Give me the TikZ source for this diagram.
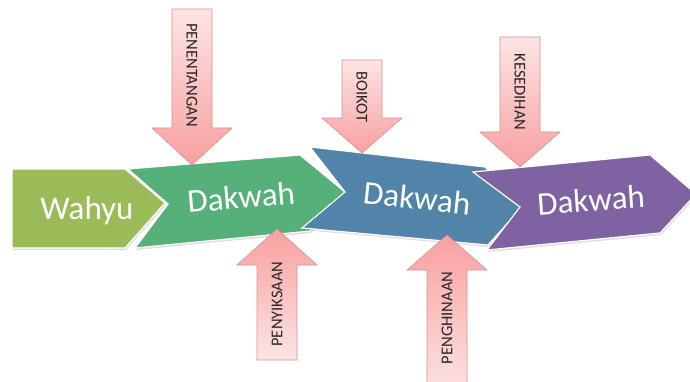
\documentclass[tikz,border=0pt]{standalone}
\usepackage{fontspec}
\setmainfont{Carlito}
\usetikzlibrary{shadows}

\definecolor{wahyucol}{HTML}{9BBB59}
\definecolor{greencol}{HTML}{55B079}
\definecolor{bluecol}{HTML}{5283A8}
\definecolor{purplecol}{HTML}{7E62A1}
\definecolor{pinklight}{HTML}{FDE4E4}
\definecolor{pinkdark}{HTML}{F8A0A0}
\definecolor{pinkedge}{HTML}{D99090}

\tikzset{
    chevron/.style={draw=white, line width=1.2pt, line join=miter,
        drop shadow={opacity=0.25, shadow xshift=1pt, shadow yshift=-2pt}},
    pinkdown/.style={draw=pinkedge, line width=0.6pt, top color=pinklight, bottom color=pinkdark},
    pinkup/.style={draw=pinkedge, line width=0.6pt, top color=pinkdark, bottom color=pinklight},
    bigtext/.style={text=white, font=\fontsize{33}{36}\selectfont, inner sep=0pt},
    smalltext/.style={text=black!85, font=\fontsize{16.5}{18}\selectfont, inner sep=0pt},
}

% #1 name, #2 x, #3 shaft end, #4 head base, #5 tip, #6 text y, #7 text
\newcommand{\pushdown}[7]{
    \path[pinkdown] (#2-20,#3) -- (#2+20,#3) -- (#2+20,#4) -- (#2+40,#4)
        -- (#2,#5) -- (#2-40,#4) -- (#2-20,#4) -- cycle;
    \node[smalltext, rotate=-90] (#1) at (#2,#6) {#7};
}
\newcommand{\pushup}[7]{
    \path[pinkup] (#2-20,#3) -- (#2+20,#3) -- (#2+20,#4) -- (#2+40,#4)
        -- (#2,#5) -- (#2-40,#4) -- (#2-20,#4) -- cycle;
    \node[smalltext, rotate=90] (#1) at (#2,#6) {#7};
}

\begin{document}
\begin{tikzpicture}[x=1pt, y=-1pt]
    \useasboundingbox (0,0) rectangle (690,382);
    \clip (0,0) rectangle (690,382);

    % chevrons
    \path[chevron, fill=wahyucol] (12,169) -- (125,169) -- (165,203) -- (125,248) -- (12,248) -- cycle;
    \path[chevron, fill=greencol] (128,169) -- (300,155) -- (345,192) -- (310,231) -- (135,248) -- (168,204) -- cycle;
    \path[chevron, fill=bluecol] (310,147) -- (485,167) -- (522,207) -- (488,245) -- (302,228) -- (345,192) -- cycle;
    \path[chevron, fill=purplecol] (473,172) -- (650,155) -- (696,194) -- (660,233) -- (487,250) -- (520,207) -- cycle;

    \node[bigtext] (wahyu) at (87,211) {Wahyu};
    \node[bigtext, rotate=5] (dakwahA) at (241,197) {Dakwah};
    \node[bigtext, rotate=-6] (dakwahB) at (417,198) {Dakwah};
    \node[bigtext, rotate=4] (dakwahC) at (591,200) {Dakwah};

    % pressures
    \pushdown{penentangan}{192}{9}{128}{165}{75}{PENENTANGAN}
    \pushdown{boikot}{362}{60}{118}{153}{97}{BOIKOT}
    \pushdown{kesedihan}{520}{37}{132}{167}{92}{KESEDIHAN}
    \pushup{penyiksaan}{277}{360}{265}{229}{304}{PENYIKSAAN}
    \pushup{penghinaan}{447}{395}{270}{235}{318}{PENGHINAAN}
\end{tikzpicture}
\end{document}
